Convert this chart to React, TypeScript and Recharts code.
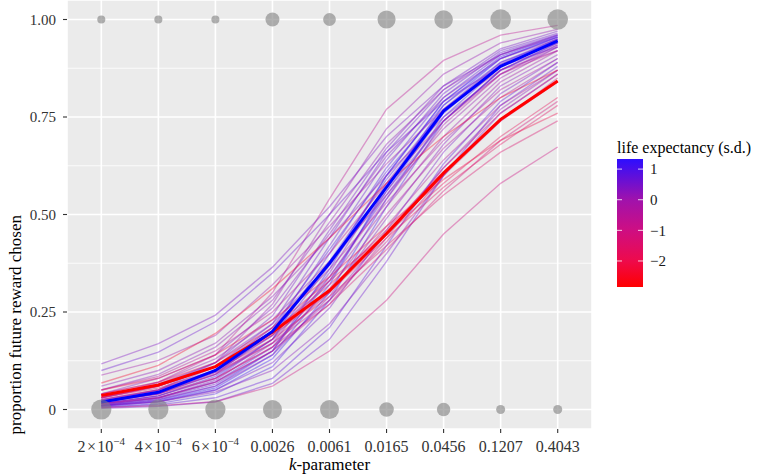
import React from 'react'
import { ComposedChart, Line, Scatter, XAxis, YAxis, ZAxis, CartesianGrid } from 'recharts'

// k-parameter categories (discrete axis)
const kLabels = ['2×10^-4', '4×10^-4', '6×10^-4', '0.0026', '0.0061', '0.0165', '0.0456', '0.1207', '0.4043']

// participants always choosing future (top row) / immediate (bottom row)
const allFutureN = [4, 4, 4, 12, 10, 20, 21, 26, 26]
const allImmediateN = [25, 25, 25, 22, 22, 13, 11, 5, 5]

// model curves for high / low life expectancy
const highLE = [0.019, 0.044, 0.1, 0.2, 0.375, 0.57, 0.765, 0.88, 0.945]
const lowLE = [0.036, 0.063, 0.11, 0.198, 0.305, 0.451, 0.606, 0.744, 0.842]

// individual participants: life expectancy (s.d.) and proportion future reward chosen
const participantLE = [
  1.1, 0.9, 0.7, 1.0, 1.2, 0.6, 0.8, 0.5, 1.3, 0.4, 0.3, 0.9, 0.7, 0.2, -0.6, 0.1, 1.0, 1.1,
  0.0, -0.2, 0.3, 0.1, -0.3, 0.2, -0.4, 0.5, 0.4, -0.1, 0.6, 0.4, 0.0, 0.2, 0.8, -0.5, 0.3, 0.6,
  -2.3, -1.5, -1.8, -1.2, -2.0, -1.0, -1.4, -0.9, -0.8, -1.6,
]
const participantCurves = [
  [0.01, 0.025, 0.06, 0.15, 0.36, 0.6, 0.79, 0.9, 0.955],
  [0.015, 0.035, 0.08, 0.18, 0.4, 0.62, 0.8, 0.91, 0.96],
  [0.02, 0.04, 0.09, 0.2, 0.42, 0.64, 0.81, 0.915, 0.962],
  [0.012, 0.03, 0.07, 0.16, 0.33, 0.56, 0.76, 0.885, 0.95],
  [0.008, 0.02, 0.05, 0.13, 0.3, 0.54, 0.75, 0.88, 0.945],
  [0.025, 0.05, 0.11, 0.22, 0.44, 0.66, 0.82, 0.92, 0.965],
  [0.018, 0.04, 0.095, 0.19, 0.38, 0.59, 0.77, 0.89, 0.95],
  [0.03, 0.06, 0.12, 0.24, 0.46, 0.67, 0.83, 0.925, 0.97],
  [0.01, 0.022, 0.055, 0.14, 0.32, 0.57, 0.78, 0.9, 0.955],
  [0.015, 0.03, 0.075, 0.17, 0.35, 0.58, 0.77, 0.885, 0.94],
  [0.04, 0.08, 0.14, 0.26, 0.45, 0.65, 0.8, 0.9, 0.95],
  [0.02, 0.045, 0.1, 0.21, 0.41, 0.61, 0.78, 0.89, 0.945],
  [0.012, 0.028, 0.065, 0.15, 0.34, 0.55, 0.74, 0.87, 0.935],
  [0.05, 0.09, 0.16, 0.28, 0.48, 0.68, 0.82, 0.91, 0.96],
  [0.03, 0.07, 0.14, 0.3, 0.54, 0.77, 0.895, 0.96, 0.985],
  [0.02, 0.05, 0.12, 0.27, 0.5, 0.72, 0.86, 0.94, 0.975],
  [0.006, 0.015, 0.04, 0.11, 0.28, 0.52, 0.74, 0.87, 0.94],
  [0.015, 0.035, 0.085, 0.18, 0.37, 0.6, 0.79, 0.905, 0.958],
  [0.02, 0.04, 0.09, 0.18, 0.33, 0.52, 0.7, 0.84, 0.92],
  [0.03, 0.06, 0.11, 0.21, 0.36, 0.53, 0.69, 0.82, 0.9],
  [0.01, 0.025, 0.06, 0.14, 0.29, 0.49, 0.68, 0.83, 0.91],
  [0.04, 0.07, 0.13, 0.23, 0.38, 0.55, 0.72, 0.85, 0.93],
  [0.015, 0.035, 0.08, 0.16, 0.31, 0.5, 0.67, 0.8, 0.89],
  [0.06, 0.1, 0.17, 0.29, 0.44, 0.6, 0.75, 0.86, 0.93],
  [0.02, 0.045, 0.09, 0.17, 0.3, 0.47, 0.64, 0.78, 0.87],
  [0.008, 0.02, 0.05, 0.12, 0.26, 0.46, 0.66, 0.81, 0.9],
  [0.035, 0.065, 0.12, 0.22, 0.37, 0.56, 0.74, 0.87, 0.94],
  [0.025, 0.05, 0.1, 0.19, 0.34, 0.54, 0.73, 0.86, 0.935],
  [0.1, 0.147, 0.225, 0.35, 0.5, 0.66, 0.79, 0.88, 0.93],
  [0.117, 0.169, 0.242, 0.365, 0.52, 0.7, 0.83, 0.91, 0.955],
  [0.088, 0.126, 0.19, 0.32, 0.47, 0.63, 0.77, 0.87, 0.92],
  [0.012, 0.03, 0.07, 0.15, 0.28, 0.45, 0.62, 0.77, 0.87],
  [0.005, 0.012, 0.03, 0.08, 0.21, 0.42, 0.63, 0.79, 0.89],
  [0.05, 0.085, 0.15, 0.25, 0.4, 0.58, 0.74, 0.86, 0.92],
  [0.01, 0.02, 0.045, 0.1, 0.22, 0.4, 0.6, 0.76, 0.86],
  [0.003, 0.008, 0.02, 0.067, 0.18, 0.38, 0.6, 0.78, 0.88],
  [0.068, 0.113, 0.195, 0.31, 0.44, 0.58, 0.7, 0.8, 0.87],
  [0.03, 0.06, 0.11, 0.2, 0.32, 0.46, 0.61, 0.74, 0.84],
  [0.04, 0.07, 0.12, 0.21, 0.33, 0.45, 0.58, 0.7, 0.8],
  [0.02, 0.04, 0.08, 0.16, 0.27, 0.41, 0.56, 0.69, 0.79],
  [0.05, 0.08, 0.14, 0.23, 0.34, 0.47, 0.59, 0.69, 0.76],
  [0.005, 0.01, 0.02, 0.06, 0.15, 0.28, 0.45, 0.58, 0.673],
  [0.03, 0.055, 0.1, 0.18, 0.29, 0.42, 0.55, 0.66, 0.74],
  [0.025, 0.05, 0.095, 0.17, 0.28, 0.43, 0.6, 0.74, 0.85],
  [0.015, 0.03, 0.07, 0.15, 0.27, 0.44, 0.62, 0.76, 0.86],
  [0.035, 0.06, 0.11, 0.19, 0.3, 0.44, 0.57, 0.68, 0.78],
]

const yDomain = [-0.05, 1.05]
const yTicks = [0, 0.25, 0.5, 0.75, 1]
const yMinor = [0.125, 0.375, 0.625, 0.875]
const legendTicks = [1, 0, -1, -2]
const leRange = [-2.85, 1.33]

const serif = '"Liberation Serif", "Times New Roman", serif'

// red -> blue colour ramp (approximating ggplot's Lab interpolation)
const rampStops: [number, number[]][] = [
  [-2.85, [255, 0, 0]],
  [-2, [238, 10, 75]],
  [-1, [206, 14, 130]],
  [0, [160, 18, 172]],
  [1.33, [45, 14, 255]],
]
function leColor(v: number) {
  for (let i = 1; i < rampStops.length; i++) {
    const [v1, c1] = rampStops[i]
    const [v0, c0] = rampStops[i - 1]
    if (v <= v1 || i === rampStops.length - 1) {
      const t = Math.max(0, Math.min(1, (v - v0) / (v1 - v0)))
      const c = c0.map((a, j) => Math.round(a + (c1[j] - a) * t))
      return `rgb(${c[0]},${c[1]},${c[2]})`
    }
  }
  return 'rgb(255,0,0)'
}

const data = kLabels.map((k, i) => {
  const row: Record<string, number | string> = {
    k,
    top: 1,
    bottom: 0,
    topN: allFutureN[i],
    bottomN: allImmediateN[i],
    high: highLE[i],
    low: lowLE[i],
  }
  participantCurves.forEach((c, j) => {
    row[`p${j}`] = c[i]
  })
  return row
})

// minor gridlines: use the axis scale when exposed, else the plot offset + domain
function minorLines({ yAxis, offset }: any) {
  const s = yAxis && yAxis.scale
  if (typeof s === 'function') return yMinor.map((v) => s(v))
  if (s && typeof s.map === 'function') return yMinor.map((v) => s.map(v))
  return yMinor.map((v) => offset.top + ((yDomain[1] - v) / (yDomain[1] - yDomain[0])) * offset.height)
}

function KTick({ x, y, payload }: any) {
  const [base, exp] = String(payload.value).split('^')
  return (
    <text x={x} y={y} dy={16.5} textAnchor="middle" fontFamily={serif} fontSize={16} fill="#333">
      {base.replace('×', '\u200a×\u200a')}
      {exp ? (
        <tspan dy={-6.5} fontSize={11}>
          {exp.replace('-', '−')}
        </tspan>
      ) : null}
    </text>
  )
}

function ColourBar() {
  const top = 159
  const h = 128
  const toY = (v: number) => top + ((leRange[1] - v) / (leRange[1] - leRange[0])) * h
  const stops = [1.33, 1, 0.5, 0, -0.5, -1, -1.5, -2, -2.5, -2.85]
  return (
    <svg width={757} height={475} style={{ position: 'absolute', left: 0, top: 0, pointerEvents: 'none' }}>
      <defs>
        <linearGradient id="leGrad" x1="0" y1="0" x2="0" y2="1">
          {stops.map((v) => (
            <stop key={v} offset={(leRange[1] - v) / (leRange[1] - leRange[0])} stopColor={leColor(v)} />
          ))}
        </linearGradient>
      </defs>
      <text x={617} y={153} fontFamily={serif} fontSize={16} fill="#000">
        life expectancy (s.d.)
      </text>
      <rect x={617} y={top} width={26} height={h} fill="url(#leGrad)" />
      {legendTicks.map((v) => (
        <g key={v}>
          <line x1={617} x2={622} y1={toY(v)} y2={toY(v)} stroke="#fff" strokeWidth={0.8} />
          <line x1={638} x2={643} y1={toY(v)} y2={toY(v)} stroke="#fff" strokeWidth={0.8} />
          <text x={650} y={toY(v)} dy="0.35em" fontFamily={serif} fontSize={15} fill="#1a1a1a">
            {v < 0 ? `−${Math.abs(v)}` : String(v)}
          </text>
        </g>
      ))}
    </svg>
  )
}

export default function App() {
  return (
    <div style={{ position: 'absolute', left: 0, top: 0, width: 757, height: 475, background: '#fff' }}>
      <ComposedChart width={757} height={475} data={data} margin={{ top: 0, right: 165, bottom: 0, left: 0 }}>
        <CartesianGrid
          fill="#EBEBEB"
          stroke="#fff"
          strokeWidth={0.8}
          vertical={false}
          horizontalCoordinatesGenerator={minorLines}
        />
        <CartesianGrid stroke="#fff" strokeWidth={1.6} fill="none" />
        <XAxis
          dataKey="k"
          type="category"
          scale="point"
          padding={{ left: 34.3, right: 34.3 }}
          height={46}
          axisLine={false}
          tickLine={{ stroke: '#333', strokeWidth: 1.1 }}
          tickSize={4}
          interval={0}
          tick={<KTick />}
        />
        <YAxis
          type="number"
          domain={yDomain}
          ticks={yTicks}
          width={67}
          axisLine={false}
          tickLine={{ stroke: '#333', strokeWidth: 1.1 }}
          tickSize={4}
          tickMargin={7}
          tickFormatter={(v: number) => (v === 0 ? '0' : v.toFixed(2))}
          tick={{ fontFamily: serif, fontSize: 15, fill: '#333' }}
        />
        <ZAxis zAxisId="t" dataKey="topN" type="number" domain={[0, 26]} range={[0, 333]} />
        <ZAxis zAxisId="b" dataKey="bottomN" type="number" domain={[0, 26]} range={[0, 333]} />
        <Scatter dataKey="top" zAxisId="t" fill="#7f7f7f" fillOpacity={0.6} isAnimationActive={false} />
        <Scatter dataKey="bottom" zAxisId="b" fill="#7f7f7f" fillOpacity={0.6} isAnimationActive={false} />
        {participantCurves.map((_, j) => (
          <Line
            key={j}
            type="linear"
            dataKey={`p${j}`}
            stroke={leColor(participantLE[j])}
            strokeOpacity={0.38}
            strokeWidth={1.4}
            dot={false}
            activeDot={false}
            isAnimationActive={false}
          />
        ))}
        <Line type="linear" dataKey="low" stroke="#ff0000" strokeWidth={3} dot={false} activeDot={false} isAnimationActive={false} />
        <Line type="linear" dataKey="high" stroke="#0000ff" strokeWidth={3} dot={false} activeDot={false} isAnimationActive={false} />
      </ComposedChart>
      <div
        style={{
          position: 'absolute',
          left: 15,
          top: 214.5,
          transform: 'translate(-100%, -50%) rotate(-90deg)',
          transformOrigin: '100% 50%',
          whiteSpace: 'nowrap',
          fontFamily: serif,
          fontSize: 17,
          lineHeight: '17px',
          color: '#000',
        }}
      >
        proportion future reward chosen
      </div>
      <div
        style={{
          position: 'absolute',
          left: 329.5,
          top: 456,
          transform: 'translateX(-50%)',
          whiteSpace: 'nowrap',
          fontFamily: serif,
          fontSize: 17,
          lineHeight: '17px',
          color: '#000',
        }}
      >
        <i>k</i>-parameter
      </div>
      <ColourBar />
    </div>
  )
}
